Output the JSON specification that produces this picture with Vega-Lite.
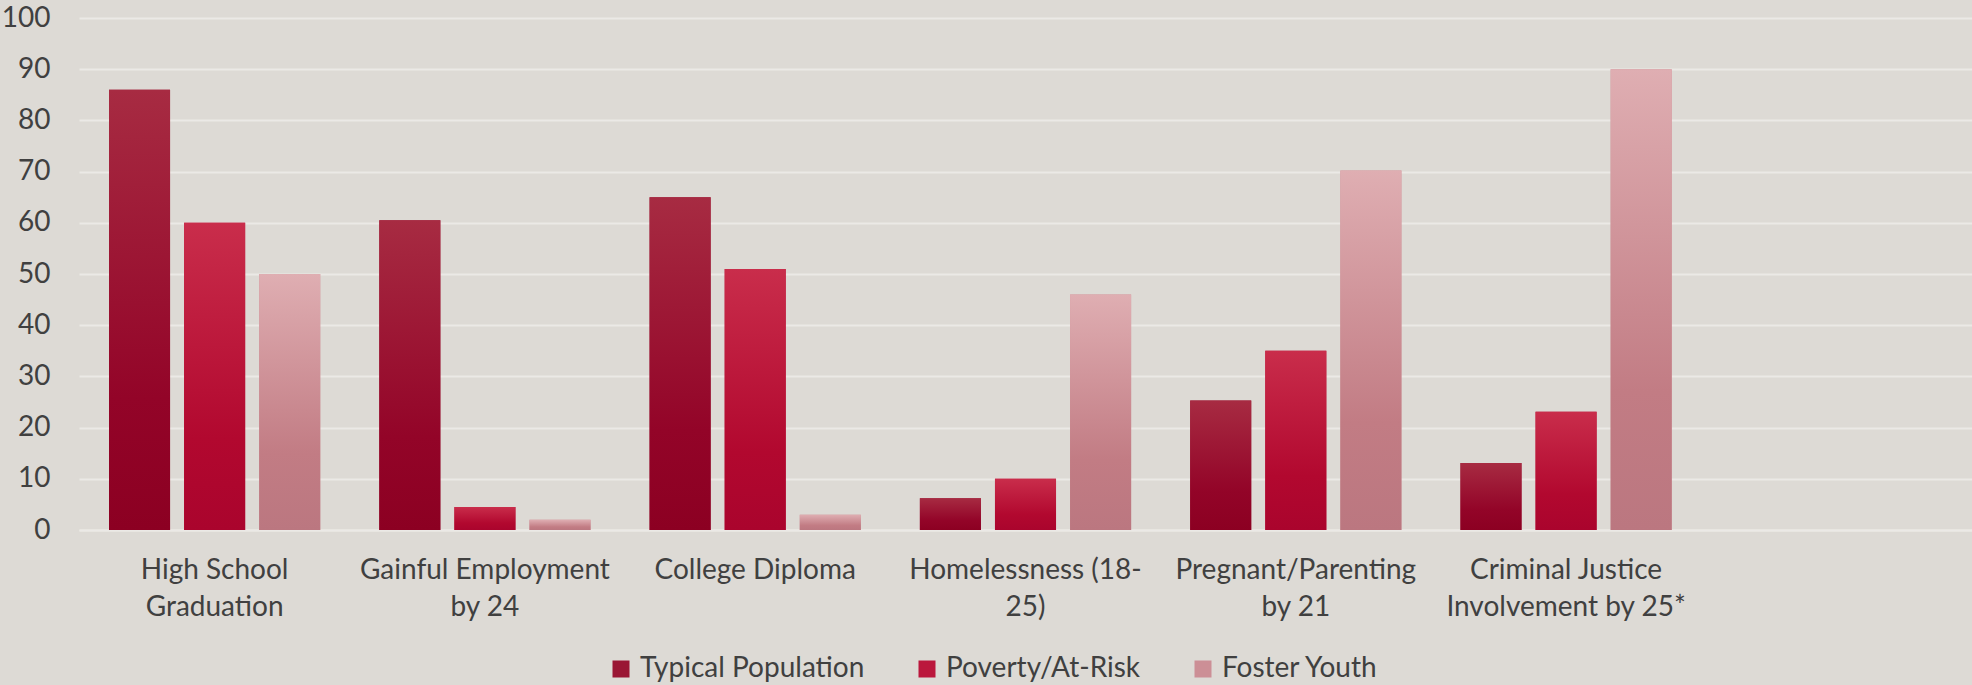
{
  "$schema": "https://vega.github.io/schema/vega-lite/v6.json",
  "autosize": "none",
  "width": 1893,
  "height": 512,
  "padding": {"left": 79, "top": 18, "right": 0, "bottom": 155},
  "background": "#dddad5",
  "config": {
    "view": {"stroke": null},
    "font": "Lato",
    "axis": {"labelFont": "Lato", "labelColor": "#404040", "labelFontSize": 28}
  },
  "data": {
    "values": [
      {"category": "High School Graduation", "group": "Typical Population", "value": 86},
      {"category": "High School Graduation", "group": "Poverty/At-Risk", "value": 60},
      {"category": "High School Graduation", "group": "Foster Youth", "value": 50},
      {"category": "Gainful Employment by 24", "group": "Typical Population", "value": 60.5},
      {"category": "Gainful Employment by 24", "group": "Poverty/At-Risk", "value": 4.5},
      {"category": "Gainful Employment by 24", "group": "Foster Youth", "value": 2},
      {"category": "College Diploma", "group": "Typical Population", "value": 65},
      {"category": "College Diploma", "group": "Poverty/At-Risk", "value": 51},
      {"category": "College Diploma", "group": "Foster Youth", "value": 3},
      {"category": "Homelessness (18-25)", "group": "Typical Population", "value": 6.2},
      {"category": "Homelessness (18-25)", "group": "Poverty/At-Risk", "value": 10},
      {"category": "Homelessness (18-25)", "group": "Foster Youth", "value": 46},
      {"category": "Pregnant/Parenting by 21", "group": "Typical Population", "value": 25.3},
      {"category": "Pregnant/Parenting by 21", "group": "Poverty/At-Risk", "value": 35},
      {"category": "Pregnant/Parenting by 21", "group": "Foster Youth", "value": 70.2},
      {"category": "Criminal Justice Involvement by 25*", "group": "Typical Population", "value": 13.1},
      {"category": "Criminal Justice Involvement by 25*", "group": "Poverty/At-Risk", "value": 23.1},
      {"category": "Criminal Justice Involvement by 25*", "group": "Foster Youth", "value": 90}
    ]
  },
  "encoding": {
    "x": {
      "field": "category",
      "type": "nominal",
      "sort": null,
      "scale": {
        "domain": ["High School Graduation", "Gainful Employment by 24", "College Diploma", "Homelessness (18-25)", "Pregnant/Parenting by 21", "Criminal Justice Involvement by 25*", " "],
        "paddingInner": 0.2185,
        "paddingOuter": 0.111
      },
      "axis": {
        "title": null,
        "labelAngle": 0,
        "ticks": false,
        "domain": true,
        "domainColor": "#ebe9e6",
        "domainWidth": 2,
        "labelPadding": 26,
        "labelLineHeight": 37,
        "labelLimit": 400,
        "labelExpr": "datum.value == 'High School Graduation' ? ['High School', 'Graduation'] : datum.value == 'Gainful Employment by 24' ? ['Gainful Employment', 'by 24'] : datum.value == 'College Diploma' ? ['College Diploma'] : datum.value == 'Homelessness (18-25)' ? ['Homelessness (18-', '25)'] : datum.value == 'Pregnant/Parenting by 21' ? ['Pregnant/Parenting', 'by 21'] : datum.value == 'Criminal Justice Involvement by 25*' ? ['Criminal Justice', 'Involvement by 25*'] : ''"
      }
    },
    "xOffset": {
      "field": "group",
      "type": "nominal",
      "sort": ["Typical Population", "Poverty/At-Risk", "Foster Youth"],
      "scale": {"domain": ["Typical Population", "Poverty/At-Risk", "Foster Youth"], "paddingInner": 0.187, "paddingOuter": 0}
    },
    "y": {
      "field": "value",
      "type": "quantitative",
      "scale": {"domain": [0, 100], "nice": false},
      "axis": {
        "title": null,
        "values": [0, 10, 20, 30, 40, 50, 60, 70, 80, 90, 100],
        "ticks": false,
        "domain": false,
        "gridColor": "#ebe9e6",
        "gridWidth": 2,
        "labelPadding": 29
      }
    }
  },
  "layer": [
    {
      "mark": {"type": "bar"},
      "encoding": {
        "color": {
          "field": "group",
          "type": "nominal",
          "scale": {
            "domain": ["Typical Population", "Poverty/At-Risk", "Foster Youth"],
            "range": ["#9a1634", "#bb173c", "#cc8f96"]
          },
          "legend": {
            "title": null,
            "orient": "none",
            "direction": "horizontal",
            "legendX": 528,
            "legendY": 637,
            "symbolType": "square",
            "symbolSize": 289,
            "symbolStrokeWidth": 0,
            "symbolOpacity": 1,
            "labelFont": "Lato",
            "labelFontSize": 28,
            "labelColor": "#404040",
            "labelOffset": 5,
            "labelLimit": 400,
            "columnPadding": 48,
            "padding": 0
          }
        }
      }
    },
    {
      "mark": {"type": "bar"},
      "encoding": {
        "fill": {
          "condition": [
            {"test": "datum.group == 'Typical Population'", "value": {"gradient": "linear", "x1": 0, "y1": 0, "x2": 0, "y2": 1, "stops": [{"offset": 0, "color": "#a72b42"}, {"offset": 0.7, "color": "#930428"}, {"offset": 1, "color": "#8c0022"}]}},
            {"test": "datum.group == 'Poverty/At-Risk'", "value": {"gradient": "linear", "x1": 0, "y1": 0, "x2": 0, "y2": 1, "stops": [{"offset": 0, "color": "#c92d4b"}, {"offset": 0.7, "color": "#b2082f"}, {"offset": 1, "color": "#aa042d"}]}}
          ],
          "value": {"gradient": "linear", "x1": 0, "y1": 0, "x2": 0, "y2": 1, "stops": [{"offset": 0, "color": "#dfaeb2"}, {"offset": 0.7, "color": "#c27c84"}, {"offset": 1, "color": "#bb7780"}]}
        }
      }
    }
  ]
}
